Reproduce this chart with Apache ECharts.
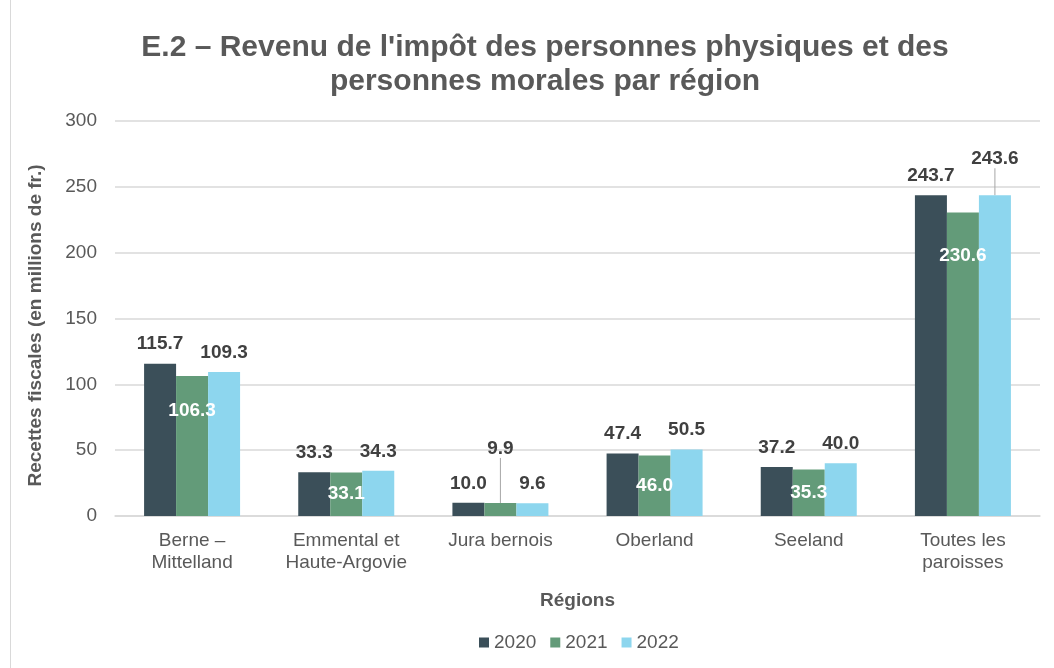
<!DOCTYPE html>
<html>
<head>
<meta charset="utf-8">
<script src="https://cdn.jsdelivr.net/npm/echarts@6/dist/echarts.min.js"></script>
<style>
  html, body { margin: 0; padding: 0; background: #fff; }
  #chart { width: 1054px; height: 668px; }
</style>
</head>
<body>
<div id="chart"></div>
<script>
const regions = ['Berne –\nMittelland', 'Emmental et\nHaute-Argovie', 'Jura bernois', 'Oberland', 'Seeland', 'Toutes les\nparoisses'];
const years = ['2020', '2021', '2022'];
const values2020 = [115.7, 33.3, 10.0, 47.4, 37.2, 243.7];
const values2021 = [106.3, 33.1, 9.9, 46.0, 35.3, 230.6];
const values2022 = [109.3, 34.3, 9.6, 50.5, 40.0, 243.6];
const yTicks = [0, 50, 100, 150, 200, 250, 300];

const colors = ['#3b4f59', '#639b79', '#8dd6ee'];
const fontFamily = '"Liberation Sans", Arial, sans-serif';

const chart = echarts.init(document.getElementById('chart'));

const darkLabel = {
  show: true,
  position: 'top',
  distance: 10,
  color: '#404040',
  fontFamily: fontFamily,
  fontSize: 19,
  fontWeight: 'bold',
  formatter: (p) => p.value.toFixed(1),
};
const guide = { show: true, lineStyle: { color: '#a6a6a6', width: 1 } };

// labels moved up with a leader line (Jura 2021, Toutes 2022)
function moved(seriesIdx, dataIdx) {
  if (seriesIdx === 1 && dataIdx === 2) return { dy: -35 };
  if (seriesIdx === 2 && dataIdx === 5) return { dy: -17 };
  return {};
}

const option = {
  backgroundColor: '#fff',
  color: colors,
  title: {
    text: "E.2 – Revenu de l'impôt des personnes physiques et des\npersonnes morales par région",
    left: 540,
    top: 26,
    textAlign: 'center',
    textStyle: {
      fontFamily: fontFamily,
      fontSize: 30,
      fontWeight: 'bold',
      color: '#595959',
      lineHeight: 34,
    },
  },
  graphic: [{
    type: 'rect',
    shape: { x: 10.5, y: -5, width: 1100, height: 690 },
    style: { fill: 'none', stroke: '#d9d9d9', lineWidth: 1 },
    silent: true,
  }],
  legend: {
    data: years,
    left: 474,
    top: 628,
    itemWidth: 10,
    itemHeight: 10,
    itemGap: 14,
    icon: 'rect',
    textStyle: { fontFamily: fontFamily, fontSize: 19, color: '#595959' },
  },
  grid: {
    left: 115,
    right: 14,
    top: 121,
    bottom: 152,
  },
  xAxis: {
    type: 'category',
    data: regions,
    name: 'Régions',
    nameLocation: 'middle',
    nameGap: 75,
    nameTextStyle: { fontFamily: fontFamily, fontSize: 19, fontWeight: 'bold', color: '#595959' },
    axisLine: { lineStyle: { color: '#d9d9d9', width: 1.5 } },
    axisTick: { show: false },
    axisLabel: {
      fontFamily: fontFamily,
      fontSize: 19,
      color: '#595959',
      lineHeight: 22,
      margin: 14,
      interval: 0,
    },
  },
  yAxis: {
    type: 'value',
    min: yTicks[0],
    max: yTicks[yTicks.length - 1],
    interval: 50,
    name: 'Recettes fiscales (en millions de fr.)',
    nameLocation: 'middle',
    nameGap: 70,
    nameTextStyle: { fontFamily: fontFamily, fontSize: 19, fontWeight: 'bold', color: '#595959', padding: [0, 14, 0, 0] },
    axisLine: { show: false },
    axisTick: { show: false },
    axisLabel: { fontFamily: fontFamily, fontSize: 19, color: '#595959', margin: 18 },
    splitLine: { lineStyle: { color: '#d9d9d9', width: 1.5 } },
  },
  series: [
    {
      name: years[0],
      type: 'bar',
      data: values2020,
      barWidth: 32,
      barGap: '0%',
      label: darkLabel,
    },
    {
      name: years[1],
      type: 'bar',
      barWidth: 32,
      barGap: '0%',
      data: values2021.map((v, i) => {
        if (i === 2) return { value: v, label: darkLabel, labelLine: guide };
        if (i === 0) return { value: v, label: { position: 'insideTop', distance: 25 } };
        if (i === 5) return { value: v, label: { position: 'insideTop', distance: 34 } };
        return v;
      }),
      label: {
        show: true,
        position: 'inside',
        color: '#fff',
        fontFamily: fontFamily,
        fontSize: 19,
        fontWeight: 'bold',
        formatter: (p) => p.value.toFixed(1),
      },
      labelLine: { show: false },
      labelLayout: (p) => moved(1, p.dataIndex),
    },
    {
      name: years[2],
      type: 'bar',
      data: values2022.map((v, i) => (i === 5 ? { value: v, labelLine: guide } : v)),
      barWidth: 32,
      barGap: '0%',
      label: darkLabel,
      labelLine: { show: false },
      labelLayout: (p) => moved(2, p.dataIndex),
    },
  ],
};

chart.setOption(option);
</script>
</body>
</html>
